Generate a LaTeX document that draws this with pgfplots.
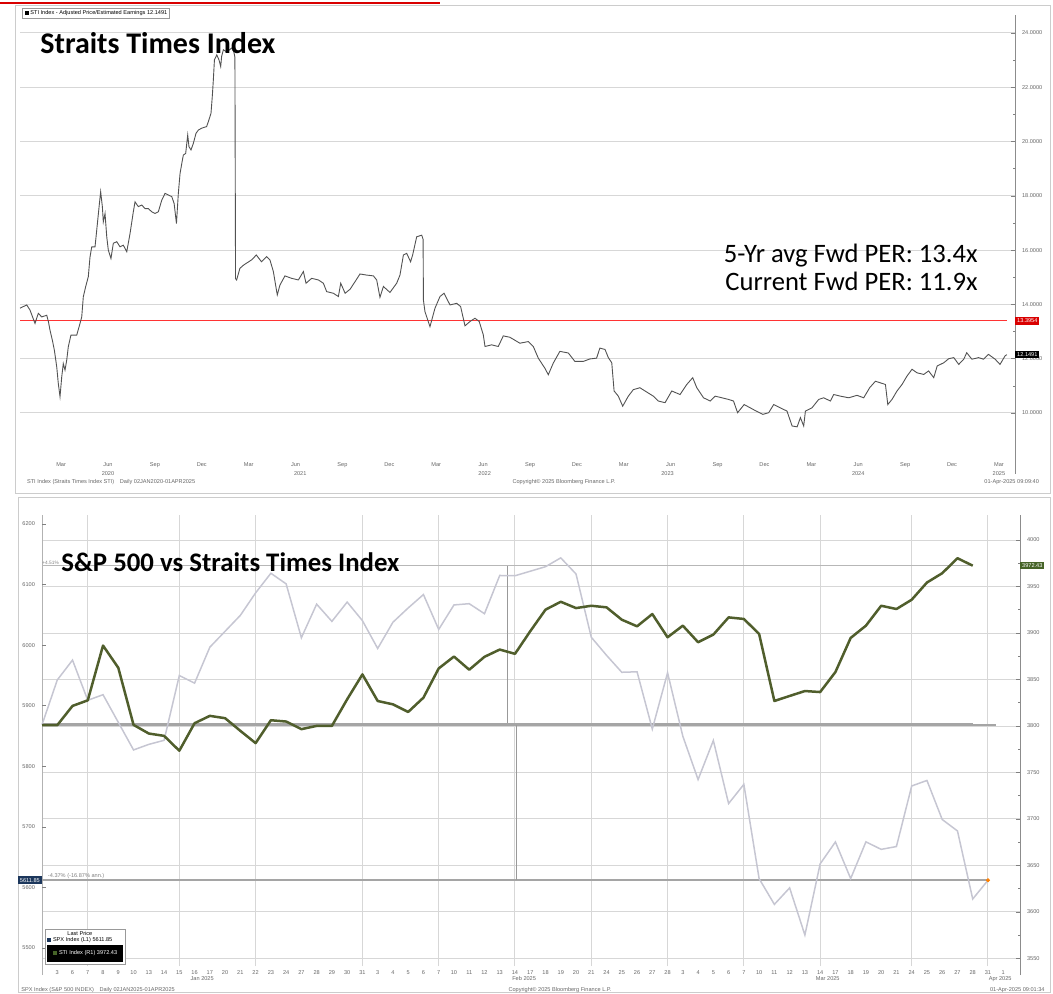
\documentclass[border=0pt]{standalone}
\usepackage{pgfplots}
\pgfplotsset{compat=1.18}
\usepackage{fontspec}
\setmainfont{Carlito}
\newfontfamily\tinyfont{Liberation Sans}
\definecolor{gridc}{RGB}{215,215,215}
\definecolor{stigreen}{RGB}{80,94,44}
\definecolor{spxgray}{RGB}{198,198,210}
\definecolor{refgray}{RGB}{165,165,165}
\definecolor{navyb}{RGB}{28,55,92}
\definecolor{lblgreen}{RGB}{70,100,40}
\newcommand{\tf}{\tinyfont\fontsize{2.8}{3.2}\selectfont}
\begin{document}
\begin{tikzpicture}
\useasboundingbox (0,0) rectangle (526.5pt,496.5pt);
% red strip at very top
\draw[red!85!black, line width=1pt] (0,495pt) -- (220pt,495pt);
% panel frames
\draw[black!20, line width=0.4pt] (7.5pt,250pt) rectangle (525pt,494pt);
\draw[black!20, line width=0.4pt] (9pt,0.3pt) rectangle (525pt,248pt);

% ================= TOP PANEL =================
\begin{axis}[
  at={(10pt,272.5pt)}, anchor=south west, scale only axis,
  width=497.5pt, height=216.5pt,
  xmin=-0.13, xmax=63.53, ymin=8.71, ymax=24.66,
  axis line style={draw=none}, clip=false,
  ytick={10,12,...,24}, minor ytick={11,13,...,23},
  ytick pos=right, yticklabel pos=right,
  yticklabel style={font=\tf, text=black!60, /pgf/number format/fixed, /pgf/number format/fixed zerofill, /pgf/number format/precision=4, /pgf/number format/assume math mode=true},
  ymajorgrids, grid style={gridc, line width=0.5pt},
  major tick length=2pt, minor tick length=1pt,
  ytick style={black!50, line width=0.3pt},
  xtick={2.5,5.5,...,62.5},
  xticklabels={Mar,Jun,Sep,Dec,Mar,Jun,Sep,Dec,Mar,Jun,Sep,Dec,Mar,Jun,Sep,Dec,Mar,Jun,Sep,Dec,Mar},
  xtick style={draw=none},
  xticklabel style={font=\tf, text=black!60, yshift=-4pt},
]
\draw[black!45, line width=0.4pt] (rel axis cs:1,-0.06) -- (rel axis cs:1,1);
\addplot[red!80, line width=0.5pt] coordinates {(-0.13,13.3954) (63.0,13.3954)};
\addplot[black!68, line width=0.45pt] coordinates {
(-0.13,13.86) (0.30,13.98) (0.51,13.79) (0.83,13.30) (1.04,13.67) (1.26,13.54) (1.58,13.60) (1.69,13.36) (1.79,13.05) (1.94,12.68)
(2.07,12.31) (2.22,11.70) (2.32,11.09) (2.43,10.60) (2.54,11.33) (2.64,11.82) (2.75,11.58) (2.86,11.95) (2.96,12.44) (3.13,12.87)
(3.50,12.87) (3.71,13.30) (3.82,13.54) (3.92,14.28) (4.07,14.65) (4.24,15.02) (4.35,15.75) (4.46,16.12) (4.67,16.12) (4.78,16.74)
(4.93,17.60) (5.03,18.15) (5.14,17.60) (5.20,17.04) (5.31,17.35) (5.42,16.49) (5.52,16.00) (5.69,15.69) (5.84,16.25) (6.06,16.31)
(6.27,16.12) (6.48,16.18) (6.70,15.94) (6.91,16.61) (7.12,17.41) (7.23,17.78) (7.44,17.60) (7.66,17.66) (7.87,17.53) (8.08,17.53)
(8.30,17.41) (8.51,17.35) (8.72,17.41) (8.94,17.84) (9.15,18.09) (9.36,18.03) (9.58,17.97) (9.73,17.72) (9.88,16.98) (10.00,18.09)
(10.11,18.82) (10.22,19.19) (10.32,19.50) (10.47,19.56) (10.60,20.24) (10.68,19.81) (10.81,19.69) (10.96,19.93) (11.13,20.30) (11.28,20.42)
(11.49,20.49) (11.81,20.55) (11.92,20.73) (12.09,21.04) (12.18,21.72) (12.24,22.27) (12.31,23.01) (12.46,23.19) (12.60,23.01) (12.71,22.76)
(12.77,23.13) (12.88,23.38) (13.10,23.30) (13.41,23.44) (13.55,23.30) (13.62,23.10) (13.66,14.95) (13.73,14.90) (13.94,15.33) (14.18,15.45)
(14.69,15.64) (14.99,15.82) (15.32,15.57) (15.65,15.76) (15.86,15.64) (16.08,15.21) (16.33,14.35) (16.50,14.71) (16.82,15.05) (17.25,14.96)
(17.68,14.90) (18.00,15.21) (18.17,14.78) (18.53,14.96) (18.96,14.90) (19.28,14.78) (19.49,14.47) (19.92,14.41) (20.24,14.29) (20.39,14.78)
(20.67,14.41) (20.99,14.56) (21.31,14.84) (21.62,15.12) (22.05,15.08) (22.48,15.05) (22.69,14.90) (22.90,14.26) (23.12,14.66) (23.54,14.44)
(23.97,14.78) (24.18,15.08) (24.40,15.82) (24.61,15.88) (24.86,15.57) (24.99,15.82) (25.25,16.49) (25.57,16.55) (25.66,16.40) (25.68,14.16)
(25.78,13.73) (26.10,13.18) (26.42,13.86) (26.74,14.29) (27.00,14.41) (27.38,13.98) (27.81,14.04) (28.06,13.92) (28.34,13.21) (28.66,13.37)
(28.98,13.49) (29.25,13.37) (29.51,12.88) (29.62,12.45) (30.04,12.51) (30.47,12.45) (30.79,12.84) (31.21,12.79) (31.85,12.57) (32.39,12.63)
(32.71,12.45) (33.03,12.02) (33.45,11.65) (33.67,11.41) (33.99,11.84) (34.41,12.27) (34.95,12.21) (35.37,11.90) (35.91,11.90) (36.33,11.99)
(36.76,12.02) (36.97,12.39) (37.30,12.34) (37.51,12.04) (37.73,11.85) (37.88,10.81) (38.15,10.62) (38.43,10.25) (38.79,10.62) (39.11,10.86)
(39.53,10.93) (39.86,10.81) (40.39,10.62) (40.71,10.44) (41.14,10.38) (41.57,10.81) (42.10,10.68) (42.53,11.05) (42.91,11.30) (43.17,10.93)
(43.60,10.56) (44.03,10.44) (44.35,10.62) (44.77,10.56) (45.20,10.50) (45.52,10.44) (45.78,10.01) (46.20,10.31) (46.59,10.19) (46.97,10.07)
(47.40,9.95) (47.77,10.01) (48.09,10.31) (48.51,10.19) (48.94,10.07) (49.27,9.52) (49.59,9.49) (49.80,9.83) (50.01,9.52) (50.12,10.07)
(50.54,10.19) (50.97,10.50) (51.29,10.56) (51.72,10.44) (51.93,10.68) (52.36,10.62) (52.89,10.56) (53.42,10.65) (53.85,10.56) (54.23,10.93)
(54.60,11.17) (54.92,11.11) (55.24,11.05) (55.39,10.31) (55.66,10.50) (55.98,10.81) (56.30,11.05) (56.62,11.36) (56.94,11.61) (57.26,11.48)
(57.69,11.42) (58.00,11.55) (58.33,11.30) (58.55,11.73) (58.97,11.85) (59.29,12.00) (59.61,12.04) (59.93,11.79) (60.25,11.98) (60.44,12.22)
(60.77,11.98) (61.20,12.04) (61.52,11.98) (61.83,12.16) (62.26,11.98) (62.57,11.79) (62.89,12.10) (63.00,12.1491)
};
\node[fill=red!85!black, text=white, font=\tf, inner sep=0.9pt, anchor=west] at (axis cs:63.53,13.3954) {13.3954};
\node[fill=black, text=white, font=\tf, inner sep=0.9pt, anchor=west] at (axis cs:63.53,12.1491) {12.1491};
% year labels
\node[font=\tf, text=black!60, yshift=-12.8pt] at (axis cs:5.5,8.71) {2020};
\node[font=\tf, text=black!60, yshift=-12.8pt] at (axis cs:17.8,8.71) {2021};
\node[font=\tf, text=black!60, yshift=-12.8pt] at (axis cs:29.6,8.71) {2022};
\node[font=\tf, text=black!60, yshift=-12.8pt] at (axis cs:41.3,8.71) {2023};
\node[font=\tf, text=black!60, yshift=-12.8pt] at (axis cs:53.5,8.71) {2024};
\node[font=\tf, text=black!60, yshift=-12.8pt] at (axis cs:62.5,8.71) {2025};
\end{axis}

% top texts
\node[anchor=base west, inner sep=0pt, font=\bfseries\fontsize{15}{17}\selectfont] at (20pt,469.5pt) {Straits Times Index};
\node[anchor=base east, inner sep=0pt, font=\fontsize{13.3}{15}\selectfont] at (489pt,365.5pt) {5-Yr avg Fwd PER: 13.4x};
\node[anchor=base east, inner sep=0pt, font=\fontsize{13.3}{15}\selectfont] at (489pt,351.5pt) {Current Fwd PER: 11.9x};
\node[draw=black!40, fill=white, anchor=north west, font=\tf, inner sep=1.2pt] at (11pt,492.5pt) {\textcolor{black}{\rule{2pt}{2pt}}\ STI Index - Adjusted Price/Estimated Earnings 12.1491};
\node[anchor=west, font=\tf, text=black!60] at (10pt,255.5pt) {STI Index (Straits Times Index STI)\quad Daily 02JAN2020-01APR2025};
\node[font=\tf, text=black!60] at (282pt,255.5pt) {Copyright\textcopyright{} 2025 Bloomberg Finance L.P.};
\node[anchor=east, font=\tf, text=black!60] at (523pt,255.5pt) {01-Apr-2025 09:09:40};

% ================= BOTTOM PANEL =================
% grid + right axis (STI scale)
\begin{axis}[
  at={(21pt,13.5pt)}, anchor=south west, scale only axis,
  width=489pt, height=225.5pt,
  xmin=0, xmax=64.1, ymin=3541.9, ymax=4026.9,
  axis line style={draw=none}, clip=false,
  ytick={3550,3600,...,4000}, minor ytick={3575,3625,...,3975},
  ytick pos=right, yticklabel pos=right,
  yticklabel style={font=\tf, text=black!60, /pgf/number format/assume math mode=true, /pgf/number format/1000 sep={}},
  ymajorgrids, xmajorgrids, grid style={gridc, line width=0.5pt},
  major tick length=2pt, minor tick length=1pt,
  ytick style={black!50, line width=0.3pt},
  xtick={3,9,14,21,26,31,36,41,46,51,57,62}, xticklabels={}, xtick style={draw=none},
]
\draw[black!45, line width=0.4pt] (rel axis cs:1,-0.02) -- (rel axis cs:1,1);
\draw[black!30, line width=0.4pt] (rel axis cs:0,-0.02) -- (rel axis cs:0,1);
\addplot[refgray, line width=1.3pt] coordinates {(0,3800.9) (62.5,3800.9)};
\addplot[refgray!80, line width=0.5pt] coordinates {(0,3972.43) (61,3972.43)};
\addplot[black!40, line width=0.4pt] coordinates {(30.5,3800.9) (30.5,3972.43)};
\node[fill=lblgreen, text=white, font=\tf, inner sep=0.9pt, anchor=west] at (axis cs:64.1,3972.43) {3972.43};
\node[font=\tinyfont\fontsize{2.4}{2.8}\selectfont, text=black!50, anchor=south west, inner sep=0pt, yshift=0.4pt] at (axis cs:0,3972.43) {+4.51\%};
\end{axis}

% SPX on left axis
\begin{axis}[
  at={(21pt,13.5pt)}, anchor=south west, scale only axis,
  width=489pt, height=225.5pt,
  xmin=0, xmax=64.1, ymin=5470.3, ymax=6214.9,
  axis line style={draw=none}, clip=false,
  ytick={5500,5600,...,6200},
  ytick pos=left, yticklabel pos=left,
  yticklabel style={font=\tf, text=black!60, /pgf/number format/assume math mode=true, /pgf/number format/1000 sep={}},
  major tick length=2pt, ytick style={black!50, line width=0.3pt},
  xtick={1,...,63},
  xticklabels={3,6,7,8,9,10,13,14,15,16,17,20,21,22,23,24,27,28,29,30,31,3,4,5,6,7,10,11,12,13,14,17,18,19,20,21,24,25,26,27,28,3,4,5,6,7,10,11,12,13,14,17,18,19,20,21,24,25,26,27,28,31,1},
  xtick style={draw=none},
  xticklabel style={font=\tf, text=black!60, yshift=1.2pt},
]
\addplot[refgray, line width=1.3pt] coordinates {(0,5868.55) (61,5868.55)};
\addplot[refgray, line width=0.9pt] coordinates {(0,5611.85) (62,5611.85)};
\addplot[black!40, line width=0.4pt] coordinates {(31.1,5868.55) (31.1,5611.85)};
\addplot[spxgray, line width=0.75pt] coordinates {
(0,5868.55) (1,5942.47) (2,5975.38) (3,5909.03) (4,5918.25) (6,5827.04) (7,5836.22) (8,5842.91) (9,5949.91) (10,5937.34)
(11,5996.66) (13,6049.24) (14,6086.37) (15,6118.71) (16,6101.24) (17,6012.28) (18,6067.70) (19,6039.31) (20,6071.17) (21,6040.53)
(22,5994.57) (23,6037.88) (24,6061.48) (25,6083.57) (26,6025.99) (27,6066.44) (28,6068.50) (29,6051.97) (30,6115.07) (31,6114.63)
(33,6129.58) (34,6144.15) (35,6117.52) (36,6013.13) (37,5983.25) (38,5955.25) (39,5956.06) (40,5861.57) (41,5954.50) (42,5849.72)
(43,5778.15) (44,5842.63) (45,5738.52) (46,5770.20) (47,5614.56) (48,5572.07) (49,5599.30) (50,5521.52) (51,5638.94) (52,5675.12)
(53,5614.66) (54,5675.29) (55,5662.89) (56,5667.56) (57,5767.57) (58,5776.65) (59,5712.20) (60,5693.31) (61,5580.94) (62,5611.85)
};
\addplot[only marks, mark=*, mark size=0.8pt, color=orange] coordinates {(62,5611.85)};
\node[fill=navyb, text=white, font=\tf, inner sep=0.9pt, anchor=east] at (axis cs:0,5611.85) {5611.85};
\node[font=\tf, text=black!50, anchor=south west, inner sep=0.5pt] at (axis cs:0.3,5611.85) {-4.37\% (-16.87\% ann.)};
\node[font=\tf, text=black!60, yshift=-6.4pt] at (axis cs:10.5,5470.3) {Jan 2025};
\node[font=\tf, text=black!60, yshift=-6.4pt] at (axis cs:31.6,5470.3) {Feb 2025};
\node[font=\tf, text=black!60, yshift=-6.4pt] at (axis cs:51.5,5470.3) {Mar 2025};
\node[font=\tf, text=black!60, yshift=-6.4pt] at (axis cs:62.8,5470.3) {Apr 2025};
\node[draw=black!40, fill=white, anchor=south west, font=\tf, inner sep=1pt, align=left] at (axis cs:0.2,5473)
  {\hspace*{10pt}Last Price\\ \textcolor{navyb}{\rule{2pt}{2pt}} SPX Index (L1)\ 5611.85\\ \colorbox{black}{\textcolor{white}{\textcolor{lblgreen}{\rule{2pt}{2pt}} STI Index (R1)\ 3972.43}}};
\end{axis}

% STI on right axis (line only)
\begin{axis}[
  at={(21pt,13.5pt)}, anchor=south west, scale only axis,
  width=489pt, height=225.5pt,
  xmin=0, xmax=64.1, ymin=3541.9, ymax=4026.9,
  axis lines=none, ticks=none,
]
\addplot[stigreen, line width=1.25pt, line join=round] coordinates {
(0,3800.9) (1,3800.9) (2,3821.6) (3,3827.6) (4,3886.5) (5,3862.6) (6,3801.2) (7,3791.9) (8,3789.4) (9,3773.4)
(10,3803.0) (11,3810.9) (12,3808.4) (13,3794.8) (14,3781.6) (15,3806.2) (16,3804.8) (17,3796.6) (18,3800.1) (19,3800.1)
(20,3828.7) (21,3855.5) (22,3826.9) (23,3823.3) (24,3815.1) (25,3830.5) (26,3861.9) (27,3874.7) (28,3860.5) (29,3874.4)
(30,3882.2) (31,3877.6) (32,3901.9) (33,3925.1) (34,3933.6) (35,3926.8) (36,3929.3) (37,3927.6) (38,3914.3) (39,3907.2)
(40,3920.4) (41,3895.4) (42,3907.9) (43,3890.1) (44,3898.3) (45,3916.8) (46,3915.1) (47,3899.0) (48,3826.9) (49,3832.3)
(50,3837.6) (51,3836.5) (52,3858.0) (53,3894.7) (54,3907.9) (55,3929.3) (56,3925.8) (57,3935.8) (58,3954.3) (59,3964.3)
(60,3980.4) (61,3972.43)
};
\end{axis}

\node[anchor=base west, inner sep=0pt, font=\bfseries\fontsize{13.4}{15}\selectfont] at (30.5pt,211pt) {S\&P 500 vs Straits Times Index};
\node[anchor=west, font=\tf, text=black!60, inner sep=0.5pt] at (10pt,1.6pt) {SPX Index (S\&P 500 INDEX)\quad Daily 02JAN2025-01APR2025};
\node[font=\tf, text=black!60, inner sep=0.5pt] at (280pt,1.6pt) {Copyright\textcopyright{} 2025 Bloomberg Finance L.P.};
\node[anchor=east, font=\tf, text=black!60, inner sep=0.5pt] at (523pt,1.6pt) {01-Apr-2025 09:01:34};
\end{tikzpicture}
\end{document}
